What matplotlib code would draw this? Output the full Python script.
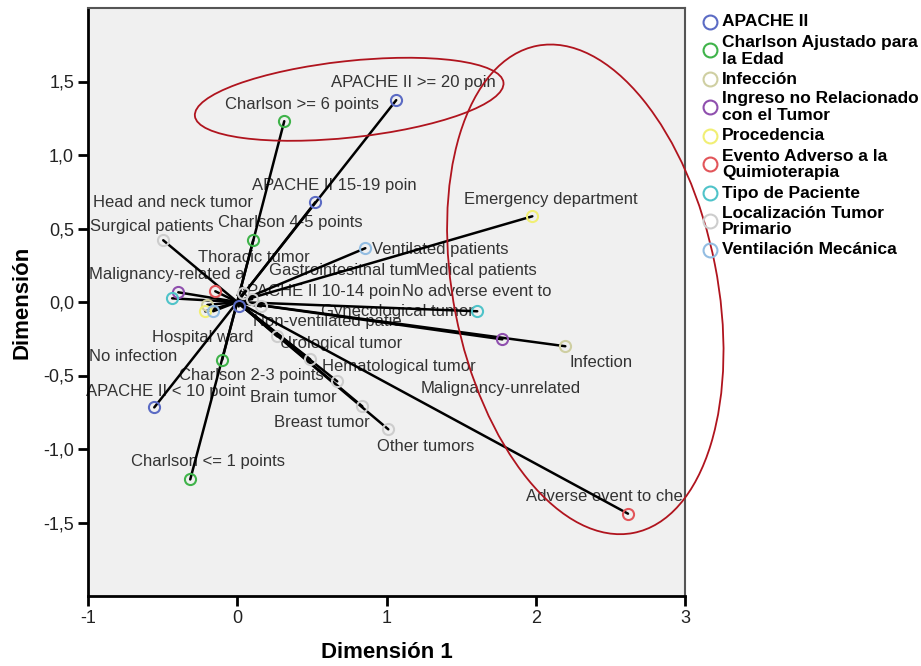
import matplotlib
matplotlib.use("Agg")
import matplotlib.pyplot as plt
from matplotlib.patches import Ellipse
from matplotlib.lines import Line2D

plt.rcParams['font.family'] = ['Liberation Sans', 'DejaVu Sans']

# ---------------- data (dimension 1, dimension 2) ----------------
apache_cats = ["APACHE II < 10 point", "APACHE II 10-14 poin", "APACHE II 15-19 poin", "APACHE II >= 20 poin"]
apache_d1 = [-0.556, 0.01, 0.523, 1.065]
apache_d2 = [-0.717, -0.03, 0.679, 1.373]

charlson_cats = ["Charlson <= 1 points", "Charlson 2-3 points", "Charlson 4-5 points", "Charlson >= 6 points"]
charlson_d1 = [-0.315, -0.101, 0.107, 0.315]
charlson_d2 = [-1.207, -0.393, 0.420, 1.230]

infeccion_cats = ["Infection", "No infection"]
infeccion_d1 = [2.198, -0.20]
infeccion_d2 = [-0.301, -0.02]

ingreso_cats = ["Malignancy-related a", "Malignancy-unrelated"]
ingreso_d1 = [-0.395, 1.776]
ingreso_d2 = [0.066, -0.254]

procedencia_cats = ["Emergency department", "Hospital ward"]
procedencia_d1 = [1.977, -0.214]
procedencia_d2 = [0.583, -0.064]

evento_cats = ["Adverse event to che", "No adverse event to"]
evento_d1 = [2.618, -0.147]
evento_d2 = [-1.440, 0.073]

tipo_cats = ["Medical patients", "Surgical patients"]
tipo_d1 = [1.608, -0.436]
tipo_d2 = [-0.063, 0.025]

local_cats = ["Head and neck tumor", "Thoracic tumor", "Gastrointesitnal tum", "Gynecological tumor",
              "Urological tumor", "Hematological tumor", "Brain tumor", "Breast tumor", "Other tumors"]
local_d1 = [-0.496, 0.04, 0.10, 0.16, 0.268, 0.489, 0.670, 0.838, 1.012]
local_d2 = [0.420, 0.06, 0.02, -0.03, -0.234, -0.390, -0.540, -0.710, -0.866]

vent_cats = ["Ventilated patients", "Non-ventilated patie"]
vent_d1 = [0.858, -0.161]
vent_d2 = [0.366, -0.063]

legend_names = ["APACHE II", "Charlson Ajustado para\nla Edad", "Infección",
                "Ingreso no Relacionado\ncon el Tumor", "Procedencia",
                "Evento Adverso a la\nQuimioterapia", "Tipo de Paciente",
                "Localización Tumor\nPrimario", "Ventilación Mecánica"]

x_ticks = [-1, 0, 1, 2, 3]
y_ticks = [-1.5, -1.0, -0.5, 0.0, 0.5, 1.0, 1.5]

# ---------------- styling ----------------
colors = ["#5b6bc4", "#3fb34a", "#cfcfa2", "#8f4fae", "#f1ef74",
          "#e2555a", "#4fc3c9", "#cdcdcd", "#93bde2"]

series = [
    (apache_cats, apache_d1, apache_d2),
    (charlson_cats, charlson_d1, charlson_d2),
    (infeccion_cats, infeccion_d1, infeccion_d2),
    (ingreso_cats, ingreso_d1, ingreso_d2),
    (procedencia_cats, procedencia_d1, procedencia_d2),
    (evento_cats, evento_d1, evento_d2),
    (tipo_cats, tipo_d1, tipo_d2),
    (local_cats, local_d1, local_d2),
    (vent_cats, vent_d1, vent_d2),
]

# label offsets from the point in screen pixels (dx right, dy down)
label_offsets = {
    "APACHE II < 10 point": (11, -16), "APACHE II 10-14 poin": (80, -15),
    "APACHE II 15-19 poin": (19, -17), "APACHE II >= 20 poin": (17, -18),
    "Charlson <= 1 points": (18, -18), "Charlson 2-3 points": (29, 16),
    "Charlson 4-5 points": (37, -18), "Charlson >= 6 points": (18, -17),
    "Infection": (36, 16), "No infection": (-74, 52),
    "Malignancy-related a": (-12, -18), "Malignancy-unrelated": (-2, 49),
    "Emergency department": (18, -17), "Hospital ward": (-3, 26),
    "Adverse event to che": (-24, -17), "No adverse event to": (261, 0),
    "Medical patients": (-1, -41), "Surgical patients": (-20, -72),
    "Head and neck tumor": (10, -38), "Thoracic tumor": (11, -36),
    "Gastrointesitnal tum": (91, -29), "Gynecological tumor": (136, 5),
    "Urological tumor": (64, 7), "Hematological tumor": (89, 7),
    "Brain tumor": (-44, 16), "Breast tumor": (-40, 16), "Other tumors": (37, 17),
    "Ventilated patients": (75, 1), "Non-ventilated patie": (114, 10),
}

W, H = 921, 666
fig = plt.figure(figsize=(W / 100, H / 100), dpi=100)
ax = fig.add_axes([88 / W, (H - 596) / H, (685 - 88) / W, (596 - 8) / H])
ax.set_facecolor("#f0f0f0")
ax.set_xlim(-1, 3)
ax.set_ylim(-2, 2)

for (cats, d1, d2), col in zip(series, colors):
    for c, x, y in zip(cats, d1, d2):
        ax.plot([0, x], [0, y], color="black", lw=1.8, zorder=3, solid_capstyle="round")
    ax.plot(d1, d2, linestyle="none", marker="o", ms=8, mfc="none", mec=col, mew=1.5, zorder=4)
    for c, x, y in zip(cats, d1, d2):
        dx, dy = label_offsets[c]
        ax.annotate(c, (x, y), xytext=(dx, -dy), textcoords="offset pixels",
                    ha="center", va="center", fontsize=12, color="#333333", zorder=2)

# red annotation ellipses
ax.add_patch(Ellipse((0.75, 1.379), 2.08, 0.52, angle=6.3, fill=False,
                     edgecolor="#b0141e", lw=1.3, zorder=5))
ax.add_patch(Ellipse((2.332, 0.086), 1.769, 3.376, angle=11, fill=False,
                     edgecolor="#b0141e", lw=1.3, zorder=5, clip_on=False))

# axes styling
ax.set_xticks(x_ticks)
ax.set_xticklabels([str(v) for v in x_ticks])
ax.set_yticks(y_ticks)
ax.set_yticklabels([f"{v:.1f}".replace(".", ",") for v in y_ticks])
ax.tick_params(direction="out", length=7, width=2, labelsize=13, labelcolor="#222222", pad=3)
for s in ["left", "bottom"]:
    ax.spines[s].set_color("black")
    ax.spines[s].set_linewidth(2)
for s in ["top", "right"]:
    ax.spines[s].set_color("#555555")
    ax.spines[s].set_linewidth(1.5)

ax.set_xlabel("Dimensión 1", fontsize=16, fontweight="bold")
ax.set_ylabel("Dimensión", fontsize=16, fontweight="bold")
ax.xaxis.label.set_va("center")
ax.yaxis.label.set_va("center")
ax.xaxis.set_label_coords(0.5, (596 - 653) / 588)
ax.yaxis.set_label_coords((22 - 88) / 597, 0.5)

# legend (manual)
y = 22
line_h = 17
for name, col in zip(legend_names, colors):
    lines = name.split("\n")
    my = y + (line_h / 2 - 1 if len(lines) > 1 else 0)
    fig.add_artist(Line2D([710 / W], [1 - my / H], transform=fig.transFigure, marker="o",
                          ms=10, mfc="none", mec=col, mew=1.5, linestyle="none"))
    for i, ln in enumerate(lines):
        fig.text(722 / W, 1 - (y + i * line_h) / H, ln, fontsize=12.5, fontweight="bold",
                 color="black", ha="left", va="center")
    y += len(lines) * line_h + 3

fig.savefig("out.png", dpi=100)
